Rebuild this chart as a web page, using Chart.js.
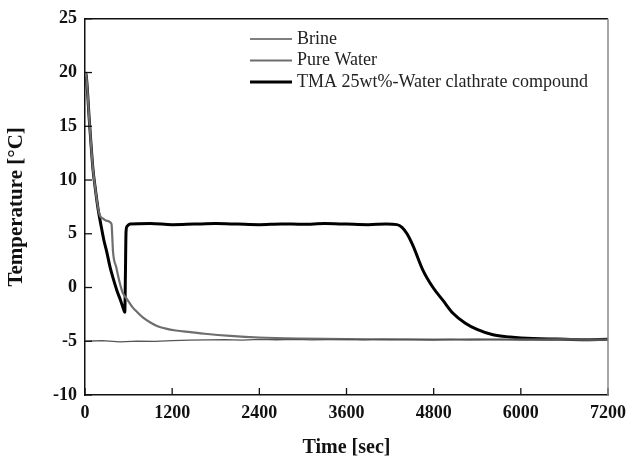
<!DOCTYPE html>
<html>
<head>
<meta charset="utf-8">
<script src="https://cdn.jsdelivr.net/npm/chart.js@4.4.1/dist/chart.umd.min.js"></script>
<style>
  html, body { margin: 0; padding: 0; background: #fff; }
  #wrap { width: 637px; height: 464px; }
</style>
</head>
<body>
<div id="wrap"><canvas id="chart-temp" width="637" height="464"></canvas></div>
<script>
// 数据 (time [sec], temperature [°C])
var seriesNames = ["Brine", "Pure Water", "TMA 25wt%-Water clathrate compound"];

var brineTime = [0, 240, 480, 720, 960, 1200, 1440, 1680, 1920, 2160, 2400, 2640, 2880, 3120, 3360, 3600, 3840, 4080, 4320, 4560, 4800, 5040, 5280, 5520, 5760, 6000, 6240, 6480, 6720, 6960, 7200];
var brineTemp = [-5.0, -4.95, -5.05, -4.98, -5.02, -4.95, -4.9, -4.88, -4.85, -4.9, -4.83, -4.86, -4.82, -4.87, -4.84, -4.83, -4.86, -4.82, -4.85, -4.84, -4.86, -4.83, -4.87, -4.84, -4.82, -4.86, -4.84, -4.87, -4.83, -4.86, -4.84];

var waterTime = [0, 15, 60, 110, 140, 180, 205, 250, 300, 365, 375, 385, 430, 480, 520, 580, 650, 720, 800, 900, 1000, 1100, 1250, 1450, 1650, 2000, 2400, 3000, 3600, 4200, 4800, 5400, 6000, 6600, 7200];
var waterTemp = [20, 19.8, 15.5, 11, 9.3, 7.4, 6.7, 6.4, 6.2, 5.9, 4.8, 3.4, 1.9, 0.4, -0.5, -1.1, -1.8, -2.3, -2.8, -3.25, -3.6, -3.8, -4.0, -4.15, -4.3, -4.5, -4.65, -4.75, -4.8, -4.82, -4.85, -4.82, -4.85, -4.83, -4.85];

var tmaTime = [0, 15, 60, 110, 140, 180, 220, 260, 300, 345, 390, 440, 490, 540, 548, 556, 565, 580, 620, 900, 1200, 1500, 1800, 2100, 2400, 2700, 3000, 3300, 3600, 3900, 4150, 4295, 4364, 4433, 4515, 4653, 4791, 4928, 5066, 5231, 5397, 5617, 5851, 6167, 6498, 6850, 7200];
var tmaTemp = [20, 19.8, 15.5, 11, 9.3, 7.3, 5.8, 4.4, 3.3, 1.9, 0.8, -0.3, -1.2, -2.2, -2.3, 1.0, 5.2, 5.7, 5.9, 5.95, 5.85, 5.9, 5.95, 5.9, 5.85, 5.92, 5.88, 5.95, 5.9, 5.85, 5.9, 5.85, 5.6, 5.0, 3.9, 1.6, 0.0, -1.2, -2.4, -3.3, -3.9, -4.4, -4.6, -4.75, -4.8, -4.85, -4.82];

var xTicks = [0, 1200, 2400, 3600, 4800, 6000, 7200];
var yTicks = [-10, -5, 0, 5, 10, 15, 20, 25];

function toPoints(ts, vs) {
  return ts.map(function (t, i) { return { x: t, y: vs[i] }; });
}

var serif = "'Liberation Serif', 'Times New Roman', serif";

// 内侧刻度 + 边框 + 图例
var framePlugin = {
  id: 'frame',
  afterDatasetsDraw: function (chart) {
    var ctx = chart.ctx, a = chart.chartArea;
    var xs = chart.scales.x, ys = chart.scales.y;
    ctx.save();
    ctx.lineWidth = 1.3;
    ctx.strokeStyle = '#111';
    xTicks.forEach(function (v) {
      var px = xs.getPixelForValue(v);
      ctx.beginPath(); ctx.moveTo(px, a.bottom); ctx.lineTo(px, a.bottom - 7); ctx.stroke();
    });
    yTicks.forEach(function (v) {
      var py = ys.getPixelForValue(v);
      ctx.beginPath(); ctx.moveTo(a.left, py); ctx.lineTo(a.left + 7, py); ctx.stroke();
    });
    // top / right
    ctx.lineWidth = 1.5;
    ctx.beginPath(); ctx.moveTo(a.left, a.top); ctx.lineTo(a.right, a.top); ctx.stroke();
    ctx.strokeStyle = '#888';
    ctx.beginPath(); ctx.moveTo(a.right, a.top); ctx.lineTo(a.right, a.bottom); ctx.stroke();

    // legend
    ctx.font = '18px ' + serif;
    ctx.textBaseline = 'middle';
    chart.data.datasets.forEach(function (ds, i) {
      var y = 39 + i * 21.5;
      ctx.strokeStyle = ds.borderColor;
      ctx.lineWidth = ds.borderWidth;
      ctx.beginPath(); ctx.moveTo(250, y); ctx.lineTo(292, y); ctx.stroke();
      ctx.fillStyle = '#222';
      ctx.fillText(ds.label, 297, y);
    });
    ctx.restore();
  }
};

var config = {
  type: 'line',
  data: {
    datasets: [
      { label: seriesNames[0], data: toPoints(brineTime, brineTemp), borderColor: '#555555', borderWidth: 1.3, pointRadius: 0, tension: 0 },
      { label: seriesNames[1], data: toPoints(waterTime, waterTemp), borderColor: '#6e6e6e', borderWidth: 2.2, pointRadius: 0, cubicInterpolationMode: 'monotone' },
      { label: seriesNames[2], data: toPoints(tmaTime, tmaTemp), borderColor: '#000000', borderWidth: 3, pointRadius: 0, cubicInterpolationMode: 'monotone' }
    ]
  },
  options: {
    responsive: false,
    animation: false,
    layout: { padding: { left: 0, right: 29, top: 8, bottom: 0 } },
    plugins: { legend: { display: false }, tooltip: { enabled: false } },
    scales: {
      x: {
        type: 'linear', min: 0, max: 7200,
        afterBuildTicks: function (s) { s.ticks = xTicks.map(function (v) { return { value: v }; }); },
        afterFit: function (s) { s.height = 69; },
        grid: { display: false, drawTicks: false },
        border: { display: true, color: '#111', width: 1.5 },
        ticks: { padding: 8, color: '#111', maxRotation: 0, callback: function (v) { return String(v); }, font: { family: serif, size: 18, weight: 'bold' } },
        title: { display: true, text: 'Time [sec]', color: '#111', padding: { top: 10 }, font: { family: serif, size: 20, weight: 'bold' } }
      },
      y: {
        min: -10, max: 25,
        afterBuildTicks: function (s) { s.ticks = yTicks.map(function (v) { return { value: v }; }); },
        afterFit: function (s) { s.width = 85; },
        grid: { display: false, drawTicks: false },
        border: { display: true, color: '#111', width: 1.5 },
        ticks: { padding: 8, color: '#111', callback: function (v) { return String(v); }, font: { family: serif, size: 18, weight: 'bold' } },
        title: { display: true, text: 'Temperature [°C]', color: '#111', padding: { bottom: 0 }, font: { family: serif, size: 21, weight: 'bold' } }
      }
    }
  },
  plugins: [framePlugin]
};

new Chart(document.getElementById('chart-temp').getContext('2d'), config);
</script>
</body>
</html>
